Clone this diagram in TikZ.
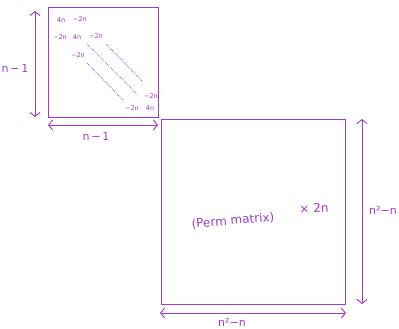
\documentclass[tikz,border=0pt]{standalone}
\usepackage{fontspec}
\setmainfont{DejaVu Sans}
\usetikzlibrary{arrows.meta}
\definecolor{pen}{RGB}{155,60,205}
\begin{document}
\begin{tikzpicture}[x=1pt,y=-1pt,
  box/.style={draw=pen,line width=1pt},
  dimarrow/.style={draw=pen,line width=0.9pt,{Straight Barb[length=4pt,width=10pt]}-{Straight Barb[length=4pt,width=10pt]}},
  entry/.style={text=pen,font=\fontsize{6.5}{7}\selectfont,inner sep=0pt},
  dim/.style={text=pen,font=\fontsize{11}{12}\selectfont,inner sep=0pt},
  diag/.style={draw=pen,line width=0.7pt,dash pattern=on 0.8pt off 1pt}]
\useasboundingbox (0,0) rectangle (399,329);
% small box
\node[box,minimum width=110pt,minimum height=110pt,anchor=north west,inner sep=0pt] (sb) at (48,7) {};
\coordinate (sl1) at (35,11);
\coordinate (sl2) at (35,117);
\draw[dimarrow] (sl1) -- (sl2);
\node[dim] (snl) at (15,68) {n\,−\,1};
\coordinate (sb1) at (48,125);
\coordinate (sb2) at (158,125);
\draw[dimarrow] (sb1) -- (sb2);
\node[dim] (sbl) at (96,136) {n\,−\,1};
% entries
\node[entry] (e11) at (61,20) {4n};
\node[entry] (e12) at (80,19) {−2n};
\node[entry] (e21) at (60,37) {−2n};
\node[entry] (e22) at (77,37) {4n};
\node[entry] (e23) at (96,36) {−2n};
\node[entry] (e32) at (78,55) {−2n};
\node[entry] (ez1) at (151,96) {−2n};
\node[entry] (ez2) at (132,108) {−2n};
\node[entry] (ez3) at (150,108) {4n};
\coordinate (d1a) at (106,44); \coordinate (d1b) at (142,81);
\coordinate (d2a) at (87,44); \coordinate (d2b) at (138,95);
\coordinate (d3a) at (87,63); \coordinate (d3b) at (123,100);
\draw[diag] (d1a) -- (d1b);
\draw[diag] (d2a) -- (d2b);
\draw[diag] (d3a) -- (d3b);
% big box
\node[box,minimum width=184pt,minimum height=185pt,anchor=north west,inner sep=0pt] (bb) at (161,119) {};
\coordinate (br1) at (362,119);
\coordinate (br2) at (362,304);
\draw[dimarrow] (br1) -- (br2);
\node[dim] (brl) at (383,210) {n²−n};
\coordinate (bd1) at (160,313);
\coordinate (bd2) at (346,313);
\draw[dimarrow] (bd1) -- (bd2);
\node[dim] (bdl) at (232,322) {n²−n};
\node[dim,font=\fontsize{12}{13}\selectfont,rotate=5] (perm) at (233,221) {(Perm matrix)};
\node[dim,font=\fontsize{12}{13}\selectfont,rotate=3] (times) at (314,208) {× 2n};
\end{tikzpicture}
\end{document}
